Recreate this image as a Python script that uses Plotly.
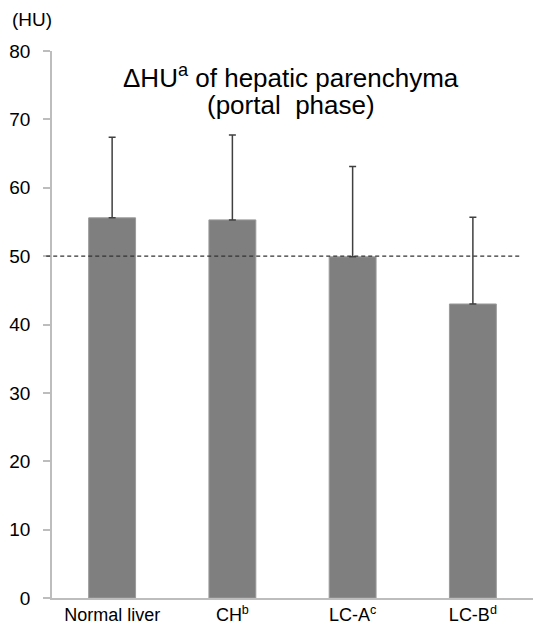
import plotly.graph_objects as go

categories = ["Normal liver", "CH<sup>b</sup>", "LC-A<sup>c</sup>", "LC-B<sup>d</sup>"]
means = [55.6, 55.3, 49.9, 43.0]
sd_plus = [11.8, 12.4, 13.2, 12.7]
ref_line = 50
y_ticks = [0, 10, 20, 30, 40, 50, 60, 70, 80]
title_lines = ["ΔHU<sup>a</sup> of hepatic parenchyma", "(portal  phase)"]
y_unit = "(HU)"

fig = go.Figure()
fig.add_trace(go.Bar(
    x=categories, y=means,
    marker=dict(color="#7f7f7f", line=dict(color="#9a9a9a", width=1)),
    width=0.39,
    error_y=dict(type="data", symmetric=False, array=sd_plus,
                 arrayminus=[0] * len(means), color="#404040",
                 thickness=1.5, width=3.5),
))
fig.add_shape(type="line", xref="paper", x0=-0.012, x1=0.975, yref="y",
              y0=ref_line, y1=ref_line,
              line=dict(color="#333333", width=1.3, dash="4px,3px"))
for txt, yp in zip(title_lines, [0.953, 0.902]):
    fig.add_annotation(text=txt, xref="paper", yref="paper", x=0.497, y=yp,
                       xanchor="center", yanchor="middle", showarrow=False,
                       font=dict(family="Liberation Sans, Arial", size=26, color="#000"))
fig.add_annotation(text=y_unit, xref="paper", yref="paper", x=-0.088, y=1.035,
                   xanchor="left", yanchor="bottom", showarrow=False,
                   font=dict(family="Liberation Sans, Arial", size=19, color="#000"))
fig.update_layout(
    width=533, height=630,
    margin=dict(l=52, r=0, t=51, b=32, pad=0),
    paper_bgcolor="white", plot_bgcolor="white",
    showlegend=False,
    xaxis=dict(showline=True, linecolor="#bdbdbd", linewidth=1.5,
               ticks="", tickfont=dict(family="Liberation Sans Narrow, Liberation Sans, Arial", size=18, color="#000")),
    yaxis=dict(range=[0, 80], tickvals=y_ticks, showgrid=False, zeroline=False,
               showline=True, linecolor="#bdbdbd", linewidth=1.5,
               ticks="outside", ticklen=7, tickcolor="#bdbdbd", tickwidth=1.5,
               ticklabelstandoff=9,
               tickfont=dict(family="Liberation Sans, Arial", size=19, color="#000")),
)
fig.write_html("out.html", config={"displayModeBar": False},
               post_script="document.body.style.margin='0';")
